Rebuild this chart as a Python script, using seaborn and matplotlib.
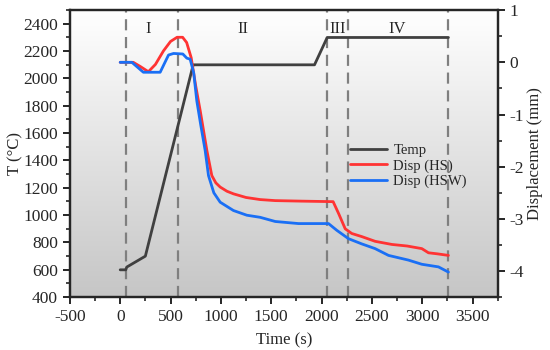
import numpy as np
import pandas as pd
import matplotlib
matplotlib.use("Agg")
import matplotlib.pyplot as plt
from matplotlib.colors import LinearSegmentedColormap
from matplotlib.ticker import MultipleLocator, AutoMinorLocator
import seaborn as sns

# temperature program
temp_t = [0, 55, 65, 250, 725, 1930, 2056, 3260]
temp_T = [600, 600, 620, 700, 2100, 2100, 2300, 2300]

# displacement, HS
hs_t = [0, 130, 200, 280, 350, 430, 500, 565, 620, 660, 705, 750, 795, 861, 910, 950,
        993, 1060, 1125, 1250, 1390, 1540, 1800, 2115, 2170, 2235, 2300, 2400, 2532,
        2698, 2850, 2996, 3062, 3150, 3260]
hs_d = [0, 0, -0.08, -0.18, -0.04, 0.22, 0.40, 0.48, 0.48, 0.38, 0.09, -0.45, -0.93,
        -1.69, -2.17, -2.31, -2.39, -2.47, -2.52, -2.59, -2.63, -2.65, -2.66, -2.67,
        -2.9, -3.19, -3.28, -3.34, -3.43, -3.49, -3.52, -3.57, -3.65, -3.67, -3.70]

# displacement, HSW
hsw_t = [0, 116, 230, 397, 480, 530, 622, 662, 695, 730, 761, 800, 844, 877, 930, 993,
         1125, 1258, 1390, 1540, 1771, 2069, 2152, 2268, 2400, 2532, 2665, 2863, 2996,
         3161, 3260]
hsw_d = [0, 0, -0.19, -0.19, 0.14, 0.17, 0.16, 0.08, 0.06, -0.2, -0.74, -1.2, -1.69,
         -2.17, -2.5, -2.68, -2.84, -2.93, -2.97, -3.05, -3.09, -3.09, -3.22, -3.38,
         -3.48, -3.57, -3.70, -3.79, -3.87, -3.92, -4.02]

stage_lines = [60, 575, 2056, 2264, 3258]
stage_names = ["I", "II", "III", "IV"]
stage_x = [278, 1220, 2155, 2750]

sns.set_style("ticks")
plt.rcParams["font.family"] = ["Liberation Serif", "DejaVu Serif"]
plt.rcParams["axes.unicode_minus"] = False

fig = plt.figure(figsize=(5.5, 3.5), dpi=100)
ax = fig.add_axes([0.127, 0.151, 0.778, 0.82])

# grey gradient background
cmap = LinearSegmentedColormap.from_list("bg", ["#c6c6c6", "#ffffff"])
ax.imshow(np.linspace(0, 1, 256)[:, None], extent=[0, 1, 0, 1], origin="lower",
          transform=ax.transAxes, aspect="auto", cmap=cmap, zorder=0)

for x in stage_lines:
    ax.axvline(x, color="#7f7f7f", lw=1.6, dashes=(5, 3), zorder=1)
for x, s in zip(stage_x, stage_names):
    ax.text(x, 2365, s, ha="center", va="center", fontsize=12)

df_temp = pd.DataFrame({"t": temp_t, "T": temp_T})
sns.lineplot(data=df_temp, x="t", y="T", ax=ax, color="#404040", lw=2,
             sort=False, estimator=None, label="Temp", legend=False, zorder=3)

ax2 = ax.twinx()
df_hs = pd.DataFrame({"t": hs_t, "d": hs_d})
df_hsw = pd.DataFrame({"t": hsw_t, "d": hsw_d})
sns.lineplot(data=df_hs, x="t", y="d", ax=ax2, color="#ff3333", lw=2,
             sort=False, estimator=None, label="Disp (HS)", legend=False)
sns.lineplot(data=df_hsw, x="t", y="d", ax=ax2, color="#1a6ff5", lw=2,
             sort=False, estimator=None, label="Disp (HSW)", legend=False)

ax.set_xlim(-500, 3750)
ax.set_ylim(400, 2500)
ax2.set_ylim(-4.5, 1)

ax.xaxis.set_major_locator(MultipleLocator(500))
ax.xaxis.set_minor_locator(AutoMinorLocator(2))
ax.yaxis.set_major_locator(MultipleLocator(200))
ax.yaxis.set_minor_locator(AutoMinorLocator(2))
ax2.yaxis.set_major_locator(MultipleLocator(1))
ax2.yaxis.set_minor_locator(AutoMinorLocator(2))

for a in (ax, ax2):
    for sp in a.spines.values():
        sp.set_visible(True)
        sp.set_linewidth(1.6)
    a.tick_params(which="major", direction="out", length=5, width=1.4, labelsize=12.5)
    a.tick_params(which="minor", direction="out", length=3, width=1.2)
ax.tick_params(top=False, right=False, which="both")
ax2.tick_params(left=False, which="both")

ax.set_xlabel("Time (s)", fontsize=12, labelpad=5)
ax.set_ylabel("T (°C)", fontsize=12, labelpad=0)
ax2.set_ylabel("Displacement (mm)", fontsize=12, labelpad=2)

h1, l1 = ax.get_legend_handles_labels()
h2, l2 = ax2.get_legend_handles_labels()
ax2.legend(h1 + h2, l1 + l2, loc="upper left", bbox_to_anchor=(0.64, 0.555),
           frameon=False, fontsize=10.5, handlelength=2.6, handletextpad=0.4,
           labelspacing=0.15, borderaxespad=0)

fig.savefig("out.png", dpi=100)
